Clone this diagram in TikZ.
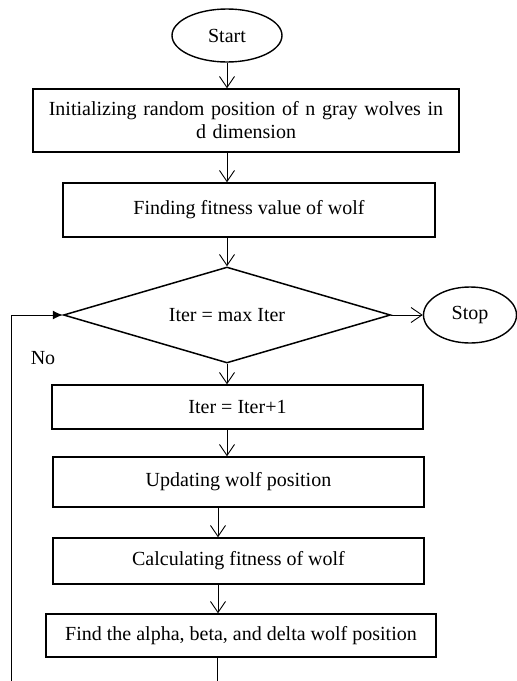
\documentclass[tikz,border=0pt]{standalone}
\usepackage{fontspec}
\setmainfont{Liberation Serif}
\usetikzlibrary{shapes.geometric,arrows.meta}

\tikzset{
  box/.style={draw, line width=1.5pt, rectangle, inner sep=2pt, align=center,
    font=\fontsize{20}{23}\selectfont},
  term/.style={draw, line width=1.4pt, ellipse, inner sep=0pt,
    font=\fontsize{20}{23}\selectfont},
  decision/.style={draw, line width=1.5pt, diamond, aspect=3.4, inner sep=1pt,
    font=\fontsize{20}{23}\selectfont},
  flow/.style={line width=0.9pt, -{Straight Barb[length=11pt,width=15pt]}},
  back/.style={line width=0.9pt, -{Latex[length=10pt,width=9pt]}}
}

\begin{document}
\begin{tikzpicture}[x=1pt, y=-1pt]
\useasboundingbox (0,0) rectangle (517,681);
% terminals
\node[term, minimum width=110pt, minimum height=53pt] (start) at (227,35.5) {Start};
\node[term, minimum width=93pt, minimum height=56pt] (stop) at (470,315) {Stop};
% process boxes
\node[box, minimum width=426pt, minimum height=63pt, text width=410pt] (init) at (246,120.5)
  {Initializing random position of n gray wolves in\\d dimension};
\node[box, minimum width=372pt, minimum height=54pt] (fit) at (249,210) {Finding fitness value of wolf};
\node[decision, minimum width=327pt, minimum height=96pt] (dec) at (227,315) {Iter = max Iter};
\node[box, minimum width=371pt, minimum height=44pt] (iter) at (237.5,407) {Iter = Iter+1};
\node[box, minimum width=371pt, minimum height=50pt] (upd) at (238.5,482) {Updating wolf position};
\node[box, minimum width=371pt, minimum height=46pt] (calc) at (238.5,561) {Calculating fitness of wolf};
\node[box, minimum width=390pt, minimum height=43pt] (find) at (241,635.5)
  {Find the alpha, beta, and delta wolf position};
\node[font=\fontsize{20}{23}\selectfont] (no) at (43,358) {No};
% free ends at the lower edge
\coordinate (out) at (217,681);
\coordinate (loop) at (11,681);
% connectors
\draw[flow] (start.south) -- (start.south |- init.north);
\draw[flow] (init.south -| start) -- (fit.north -| start);
\draw[flow] (fit.south -| dec) -- (dec.north);
\draw[flow] (dec.east) -- (stop.west);
\draw[flow] (dec.south) -- (iter.north -| dec);
\draw[flow] (iter.south -| dec) -- (upd.north -| dec);
\draw[flow] ([xshift=-20.5pt]upd.south) -- ([xshift=-20.5pt]calc.north);
\draw[flow] ([xshift=-20.5pt]calc.south) -- ([xshift=-23pt]find.north);
\draw[line width=0.9pt] (find.south -| out) -- (out);
\draw[back] (loop) |- (dec.west);
\end{tikzpicture}
\end{document}
